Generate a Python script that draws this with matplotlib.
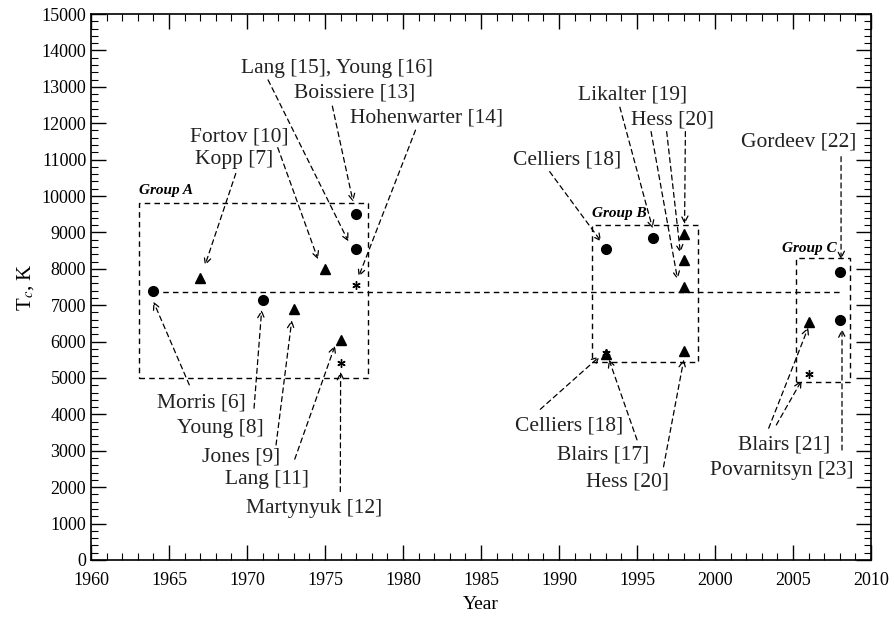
import numpy as np
import matplotlib
matplotlib.use('Agg')
import matplotlib.pyplot as plt
from matplotlib.patches import Rectangle

plt.rcParams['font.family'] = ['Liberation Serif', 'DejaVu Serif']
plt.rcParams['mathtext.fontset'] = 'stix'

# measured points (year, Tc in K)
circ_year = [1964, 1971, 1977, 1977, 1993, 1996, 2008, 2008]
circ_T = [7400, 7150, 9500, 8550, 8550, 8850, 7900, 6600]
tri_year = [1967, 1973, 1975, 1976, 1993, 1998, 1998, 1998, 1998, 2006]
tri_T = [7750, 6900, 8000, 6050, 5650, 8950, 8250, 7500, 5750, 6550]
star_year = [1976, 1977, 1993, 2006]
star_T = [5400, 7550, 5700, 5100]

# mean line
mean_T = 7350
mean_span = [1964, 2008]

# groups: (name, x0, x1, y0, y1)
groups = [('Group A', 1963.1, 1977.75, 5000, 9800),
          ('Group B', 1992.1, 1998.9, 5450, 9200),
          ('Group C', 2005.2, 2008.65, 4880, 8300)]
group_lbl = [(1963.1, 10150), (1992.1, 9520), (2004.3, 8560)]

# reference labels: text, x, y
labels = [('Lang [15], Young [16]', 1975.8, 13500),
          ('Boissiere [13]', 1976.9, 12820),
          ('Hohenwarter [14]', 1981.5, 12130),
          ('Fortov [10]', 1969.5, 11630),
          ('Kopp [7]', 1969.2, 11000),
          ('Likalter [19]', 1994.7, 12770),
          ('Hess [20]', 1997.25, 12090),
          ('Celliers [18]', 1990.55, 11000),
          ('Gordeev [22]', 2005.35, 11470),
          ('Morris [6]', 1967.1, 4300),
          ('Young [8]', 1968.3, 3620),
          ('Jones [9]', 1969.65, 2820),
          ('Lang [11]', 1971.3, 2200),
          ('Martynyuk [12]', 1974.3, 1420),
          ('Celliers [18]', 1990.65, 3680),
          ('Blairs [17]', 1992.85, 2880),
          ('Hess [20]', 1994.4, 2150),
          ('Blairs [21]', 2004.4, 3160),
          ('Povarnitsyn [23]', 2004.3, 2470)]

# arrows: (x start, y start, x tip, y tip)
arrows = [(1971.35, 13190, 1976.5, 8750),
          (1975.47, 12470, 1976.8, 9840),
          (1980.8, 11810, 1977.15, 7780),
          (1971.97, 11330, 1974.55, 8260),
          (1969.28, 10620, 1967.3, 8090),
          (1989.4, 10670, 1992.7, 8750),
          (1993.9, 12440, 1996.0, 9110),
          (1995.9, 11770, 1997.6, 7710),
          (1996.9, 11770, 1997.78, 8440),
          (1998.1, 11770, 1998.05, 9230),
          (2008.08, 11080, 2008.08, 8260),
          (1966.3, 4810, 1964.0, 7100),
          (1970.45, 4170, 1970.94, 6870),
          (1971.86, 3160, 1972.87, 6590),
          (1973.06, 2770, 1975.64, 5890),
          (1975.98, 1880, 1976.0, 5170),
          (1988.8, 4140, 1992.6, 5590),
          (1995.0, 3300, 1993.2, 5510),
          (1996.7, 2560, 1998.0, 5510),
          (2003.44, 3620, 2005.98, 6390),
          (2003.93, 3710, 2005.55, 4930),
          (2008.14, 3020, 2008.14, 6340)]

fig = plt.figure(figsize=(8.95, 6.17), dpi=100)
ax = fig.add_axes([0.1017, 0.0924, 0.8715, 0.8849])

dash = (0, (4, 3))
ax.plot(mean_span, [mean_T, mean_T], color='k', lw=1, linestyle=dash)

for name, x0, x1, y0, y1 in groups:
    ax.add_patch(Rectangle((x0, y0), x1 - x0, y1 - y0, fill=False,
                           ec='k', lw=1, linestyle=dash))
for (name, x0, x1, y0, y1), (gx, gy) in zip(groups, group_lbl):
    ax.text(gx, gy, name, fontsize=11, fontweight='bold', fontstyle='italic',
            ha='left', va='center')

for xs, ys, xt, yt in arrows:
    ax.annotate('', xy=(xt, yt), xytext=(xs, ys),
                arrowprops=dict(arrowstyle='->', color='k', lw=0.9,
                                linestyle=dash, shrinkA=0, shrinkB=0,
                                mutation_scale=12))

for txt, x, y in labels:
    ax.text(x, y, txt, fontsize=15.5, ha='center', va='center', color='#222222')

ax.plot(circ_year, circ_T, 'o', color='k', ms=7, ls='none')
ax.plot(tri_year, tri_T, '^', color='k', ms=7, ls='none')
ax.plot(star_year, star_T, marker=(6, 2, 0), color='k', ms=6, mew=1, ls='none')

ax.set_xlim(1960, 2010)
ax.set_ylim(0, 15000)
ax.set_xticks(np.arange(1960, 2011, 5))
ax.set_xticks(np.arange(1960, 2011, 1), minor=True)
ax.set_yticks(np.arange(0, 15001, 1000))
ax.set_yticks(np.arange(0, 15001, 200), minor=True)
ax.tick_params(which='both', direction='in', top=True, right=True, labelsize=13)
ax.tick_params(axis='x', which='major', pad=9)
ax.tick_params(which='major', length=11, width=1)
ax.tick_params(which='minor', length=5, width=0.8)
for s in ax.spines.values():
    s.set_linewidth(1.2)

ax.set_xlabel('Year', fontsize=14, labelpad=5)
ax.set_ylabel('T$_c$, K', fontsize=15)

plt.savefig('out.png', dpi=100)
